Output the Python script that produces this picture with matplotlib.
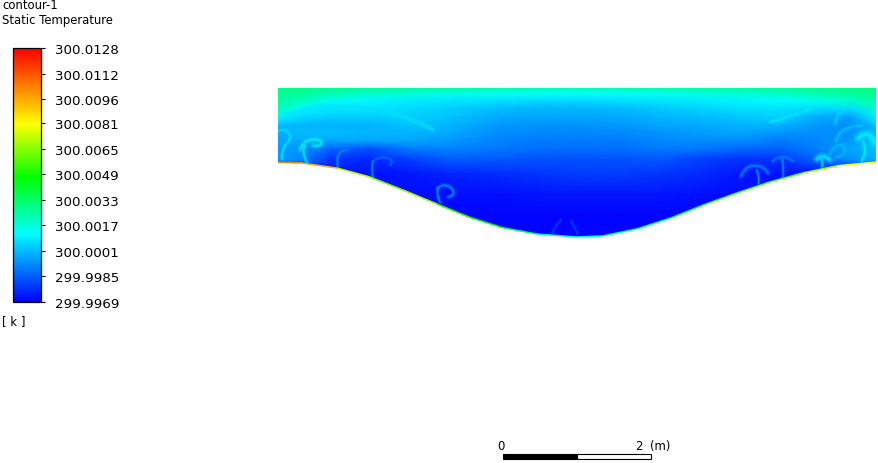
import numpy as np
import matplotlib
matplotlib.use("Agg")
import matplotlib.pyplot as plt
from matplotlib.cm import ScalarMappable
from matplotlib.collections import LineCollection
from matplotlib.colors import LinearSegmentedColormap, Normalize
from matplotlib.patches import PathPatch, Polygon
from matplotlib.path import Path

plt.rcParams['font.family'] = ['DejaVu Sans']

# temperatures are kept as mK above 300 K
tick_values = [-3.1, -1.5, 0.1, 1.7, 3.3, 4.9, 6.5, 8.1, 9.6, 11.2, 12.8]
tick_labels = ['299.9969', '299.9985', '300.0001', '300.0017', '300.0033', '300.0049',
               '300.0065', '300.0081', '300.0096', '300.0112', '300.0128']

# bottom wall of the cavity, metres
wall_x = [-4.04, -3.74, -3.24, -2.80, -2.35, -1.89, -1.45, -1.00, -0.54, 0.0,
          0.35, 0.81, 1.26, 1.70, 2.16, 2.61, 3.05, 3.51, 4.04]
wall_y = [1.01, 1.00, 0.93, 0.81, 0.635, 0.445, 0.265, 0.125, 0.04, 0.0,
          0.015, 0.11, 0.255, 0.43, 0.595, 0.745, 0.865, 0.96, 1.01]
wall_temp = [10.5, 9.5, 7.0, 6.0, 6.5, 5.0, 4.5, 3.5, 2.5, 1.6,
             2.0, 3.0, 4.5, 5.5, 5.5, 5.5, 6.5, 8.0, 10.5]
top_y = 2.01

grid_x = [-4.04, -3.74, -3.34, -2.80, -2.26, -1.72, -1.04, -0.50, 0.0,
          0.58, 1.12, 1.66, 2.20, 2.74, 3.28, 3.69, 4.04]
grid_y = [2.01, 1.93, 1.84, 1.73, 1.62, 1.51, 1.41, 1.30, 1.19, 1.05, 0.85, 0.58, 0.31, 0.0]
field = [
    [2.9, 2.9, 2.8, 2.7, 2.6, 2.5, 2.4, 2.3, 2.3, 2.3, 2.4, 2.5, 2.6, 2.7, 2.8, 2.9, 3.0],
    [2.6, 2.6, 2.3, 1.9, 1.7, 1.5, 1.4, 1.3, 1.3, 1.3, 1.4, 1.6, 1.7, 1.9, 2.3, 2.5, 2.7],
    [2.5, 2.2, 1.4, 1.1, 0.9, 0.8, 0.7, 0.6, 0.6, 0.7, 0.8, 0.9, 1.0, 1.2, 1.5, 1.9, 2.5],
    [2.2, 1.2, 0.8, 0.8, 0.6, 0.4, 0.1, 0.0, 0.0, 0.1, 0.3, 0.5, 0.7, 0.7, 0.6, 0.6, 2.0],
    [1.1, 0.6, 0.4, 0.4, 0.4, 0.2, -0.2, -0.3, -0.3, -0.2, 0.0, 0.1, 0.3, 0.5, -0.2, -0.4, 1.0],
    [0.1, 0.0, -0.1, -0.1, 0.2, 0.0, -0.5, -0.6, -0.6, -0.5, -0.3, -0.2, 0.0, -0.1, -0.5, -0.7, 0.1],
    [-0.2, 0.1, 0.1, 0.0, 0.0, -0.2, -0.7, -0.8, -0.8, -0.8, -0.6, -0.4, -0.3, -0.5, -0.7, -0.6, 0.0],
    [-0.2, -0.2, -0.3, -0.3, -0.3, -0.5, -0.9, -1.0, -1.0, -1.0, -0.8, -0.7, -0.7, -1.0, -0.8, -0.5, 0.2],
    [-0.4, -0.6, -1.3, -1.7, -1.0, -0.9, -1.1, -1.2, -1.2, -1.2, -1.0, -1.1, -1.3, -1.4, -0.9, -0.3, 0.1],
    [-0.4, -0.8, -2.2, -2.4, -2.0, -1.5, -1.6, -1.7, -1.7, -1.7, -1.6, -2.0, -2.2, -2.2, -1.3, -0.6, 0.0],
    [-2.8, -2.8, -2.8, -2.8, -2.7, -2.5, -2.3, -2.2, -2.1, -2.1, -2.2, -2.4, -2.7, -2.8, -2.8, -2.8, -2.8],
    [-2.9, -2.9, -2.9, -2.9, -2.9, -2.8, -2.8, -2.7, -2.7, -2.7, -2.7, -2.8, -2.9, -2.9, -2.9, -2.9, -2.9],
    [-3.0, -3.0, -3.0, -3.0, -3.0, -3.0, -3.0, -3.0, -3.0, -3.0, -3.0, -3.0, -3.0, -3.0, -3.0, -3.0, -3.0],
    [-3.0, -3.0, -3.0, -3.0, -3.0, -3.0, -3.0, -3.0, -3.0, -3.0, -3.0, -3.0, -3.0, -3.0, -3.0, -3.0, -3.0],
]

# thermal plumes rising from the wall, quadratic curves: x, y, temperature, width
plumes = [
    ([-3.65, -3.72, -3.68], [1.01, 1.13, 1.22], 1.4, 1.3),
    ([-3.74, -3.66, -3.47, -3.42, -3.56], [1.18, 1.36, 1.30, 1.22, 1.23], 1.5, 1.8),
    ([-3.99, -3.99, -3.95], [1.05, 1.15, 1.23], 1.1, 1.1),
    ([-3.95, -3.80, -3.95, -4.02, -4.04], [1.23, 1.36, 1.44, 1.45, 1.42], 0.9, 1.1),
    ([-3.23, -3.25, -3.23], [0.95, 1.02, 1.08], 0.0, 1.0),
    ([-3.23, -3.22, -3.10], [1.08, 1.17, 1.17], -0.5, 1.0),
    ([-2.76, -2.78, -2.76], [0.80, 0.92, 1.02], -0.1, 1.0),
    ([-2.76, -2.68, -2.58, -2.46, -2.52], [1.02, 1.09, 1.07, 1.04, 0.97], -1.0, 1.0),
    ([-1.85, -1.90, -1.88], [0.47, 0.56, 0.66], 0.3, 1.1),
    ([-1.88, -1.80, -1.70, -1.62, -1.74], [0.66, 0.74, 0.66, 0.56, 0.54], -0.2, 1.3),
    ([-0.34, -0.30, -0.22], [0.04, 0.14, 0.23], -1.6, 0.9),
    ([-0.08, -0.03, 0.01], [0.22, 0.12, 0.04], -1.6, 0.9),
    ([2.45, 2.47, 2.43], [0.72, 0.80, 0.90], 0.1, 1.0),
    ([2.22, 2.26, 2.36, 2.52, 2.58], [0.82, 0.94, 0.96, 0.98, 0.86], -0.5, 1.5),
    ([2.78, 2.80, 2.77], [0.81, 0.93, 1.05], 0.0, 1.0),
    ([2.64, 2.78, 2.92], [1.02, 1.14, 1.02], -0.8, 1.2),
    ([3.31, 3.33, 3.30], [0.95, 1.00, 1.05], 1.2, 1.3),
    ([3.24, 3.32, 3.41], [1.05, 1.14, 1.04], 1.3, 2.4),
    ([3.42, 3.48, 3.60, 3.66, 3.50], [1.12, 1.27, 1.24, 1.10, 1.08], 0.1, 1.5),
    ([3.85, 3.92, 3.87], [1.03, 1.14, 1.28], 1.2, 1.4),
    ([3.80, 3.93, 4.03], [1.33, 1.48, 1.26], 1.3, 2.8),
    ([3.49, 3.52, 3.73, 3.90, 4.03], [1.53, 1.74, 1.72, 1.70, 1.52], 0.6, 1.5),
    ([3.50, 3.55, 3.85], [1.30, 1.50, 1.50], 0.3, 1.5),
    ([2.61, 2.90, 3.15], [1.55, 1.62, 1.73], 0.9, 1.4),
    ([-3.95, -3.45, -2.80, -2.30, -1.95], [1.62, 1.85, 1.72, 1.65, 1.45], 0.7, 2.0),
]

W, H = 879, 464
fig = plt.figure(figsize=(W / 100, H / 100), dpi=100)


def px_axes(left, top, right, bottom):
    return fig.add_axes([left / W, 1 - bottom / H, (right - left) / W, (bottom - top) / H])


cmap = LinearSegmentedColormap.from_list('fluent', [
    (0.0, (0, 0, 1)), (0.27, (0, 1, 1)), (0.49, (0, 1, 0)),
    (0.70, (1, 1, 0)), (0.97, (1, 0.1, 0)), (1.0, (1, 0, 0))])
norm = Normalize(-3.1, 12.8)

ax = px_axes(278, 89, 876, 238)
ax.set_xlim(-4.04, 4.04)
ax.set_ylim(0, top_y)
ax.axis('off')

mesh = ax.pcolormesh(grid_x, grid_y, np.array(field), cmap=cmap, norm=norm, shading='gouraud')
outline = list(zip(wall_x, wall_y)) + [(wall_x[-1], top_y), (wall_x[0], top_y)]
clip = Polygon(outline, transform=ax.transData, fc='none', ec='none')
ax.add_patch(clip)
mesh.set_clip_path(clip)

for px, py, temp, width in plumes:
    codes = [Path.MOVETO] + [Path.CURVE3] * (len(px) - 1)
    curve = Path(np.column_stack([px, py]), codes)
    colour = cmap(norm(temp))
    for lw, alpha in [(width * 2.4, 0.25), (width, 0.6)]:
        patch = PathPatch(curve, fc='none', ec=colour, lw=lw, alpha=alpha, capstyle='round')
        ax.add_patch(patch)
        patch.set_clip_path(clip)

wall_pts = np.column_stack([wall_x, wall_y])
wall_segments = np.stack([wall_pts[:-1], wall_pts[1:]], axis=1)
wall_line = LineCollection(wall_segments, cmap=cmap, norm=norm, linewidths=1.1, clip_on=False)
wall_line.set_array(np.array(wall_temp[:-1]))
ax.add_collection(wall_line)

# legend
cax = px_axes(13.5, 49, 41.5, 303)
cbar = fig.colorbar(ScalarMappable(norm=norm, cmap=cmap), cax=cax, ticks=tick_values)
cbar.ax.set_yticklabels(tick_labels)
cbar.ax.tick_params(axis='y', length=3, width=0.8, pad=7, labelsize=9.6, colors='black')
cbar.outline.set_linewidth(0.9)

fig.text(2 / W, 1 - 5.5 / H, 'contour-1', fontsize=8.4, va='center', ha='left')
fig.text(2 / W, 1 - 20.5 / H, 'Static Temperature', fontsize=8.4, va='center', ha='left')
fig.text(2 / W, 1 - 322 / H, '[ k ]', fontsize=8.4, va='center', ha='left')

# scale bar
sax = px_axes(503, 455, 651, 460)
sax.set_xlim(0, 2)
sax.set_ylim(0, 1)
sax.axis('off')
sax.barh(0.5, 1, left=0, height=1, color='black', edgecolor='black', lw=0.8, clip_on=False)
sax.barh(0.5, 1, left=1, height=1, color='white', edgecolor='black', lw=0.8, clip_on=False)
fig.text(501 / W, 1 - 447 / H, '0', fontsize=8.4, va='center', ha='center')
fig.text(635 / W, 1 - 447 / H, '2', fontsize=8.4, va='center', ha='left')
fig.text(650 / W, 1 - 447 / H, '(m)', fontsize=8.4, va='center', ha='left')

fig.savefig('out.png', dpi=100)
